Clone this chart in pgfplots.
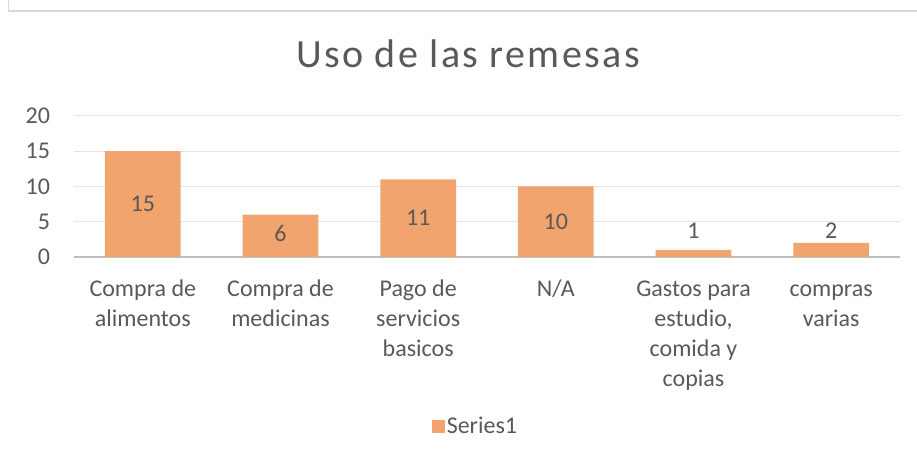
\documentclass[border=0pt]{standalone}
\usepackage{pgfplots}
\pgfplotsset{compat=1.18}
\usepackage{fontspec}
\setmainfont{Carlito}
\newfontfamily\titlefont[LetterSpace=6]{Carlito}
\definecolor{barc}{HTML}{F2A46E}
\definecolor{txtc}{HTML}{595959}
\definecolor{gridc}{HTML}{E4E4E4}
\definecolor{axc}{HTML}{BFBFBF}
\definecolor{borderc}{HTML}{D9D9D9}
\begin{document}
\begin{tikzpicture}[x=1pt,y=1pt]
\path[use as bounding box] (0,0) rectangle (917,460);
\draw[borderc, line width=1.5pt] (8.5,460) -- (8.5,449) -- (917,449);
\node[anchor=base, text=txtc, font=\titlefont\fontsize{40}{44}\selectfont] at (468,392) {Uso de las remesas};
\begin{axis}[
    at={(74pt,203pt)}, anchor=south west,
    scale only axis, width=826pt, height=141pt,
    xmin=-0.5, xmax=5.5, ymin=0, ymax=20,
    ytick={0,5,...,20},
    xtick={0,...,5},
    xticklabels={{\strut Compra de\\alimentos},{\strut Compra de\\medicinas},{\strut Pago de\\servicios\\basicos},{\strut N/A},{\strut Gastos para\\estudio,\\comida y\\copias},{\strut compras\\varias}},
    axis x line*=bottom, axis y line*=left,
    x axis line style={draw=axc, line width=2pt},
    y axis line style={draw=none},
    tick style={draw=none},
    ymajorgrids, major grid style={draw=gridc, line width=1pt},
    /pgf/number format/assume math mode=true,
    tick label style={text=txtc, font=\fontsize{24}{30}\selectfont},
    yticklabel style={inner sep=0pt, outer sep=0pt, xshift=-24pt},
    xticklabel style={align=center, inner sep=0pt, outer sep=0pt, anchor=north, yshift=-18.5pt},
    legend style={at={(0.486,-1.199)}, anchor=center, draw=none, fill=none,
        text=txtc, font=\fontsize{24}{30}\selectfont},
    legend image code/.code={\fill[barc] (0pt,-6.5pt) rectangle (13pt,6.5pt);},
    clip=false,
]
\addplot[ybar, bar width=0.55, bar shift=0pt, fill=barc, draw=none] coordinates {
    (0,15) (1,6) (2,11) (3,10) (4,1) (5,2)};
\addlegendentry{Series1}
\addplot[forget plot, draw=none, mark=none, nodes near coords,
    point meta=explicit symbolic,
    every node near coord/.append style={anchor=center, text=txtc, font=\fontsize{24}{30}\selectfont}]
    table[meta=lab] {
x y lab
0 7.5 15
1 3.4 6
2 5.5 11
3 5.0 10
4 3.7 1
5 3.7 2
};
\end{axis}
\end{tikzpicture}
\end{document}
